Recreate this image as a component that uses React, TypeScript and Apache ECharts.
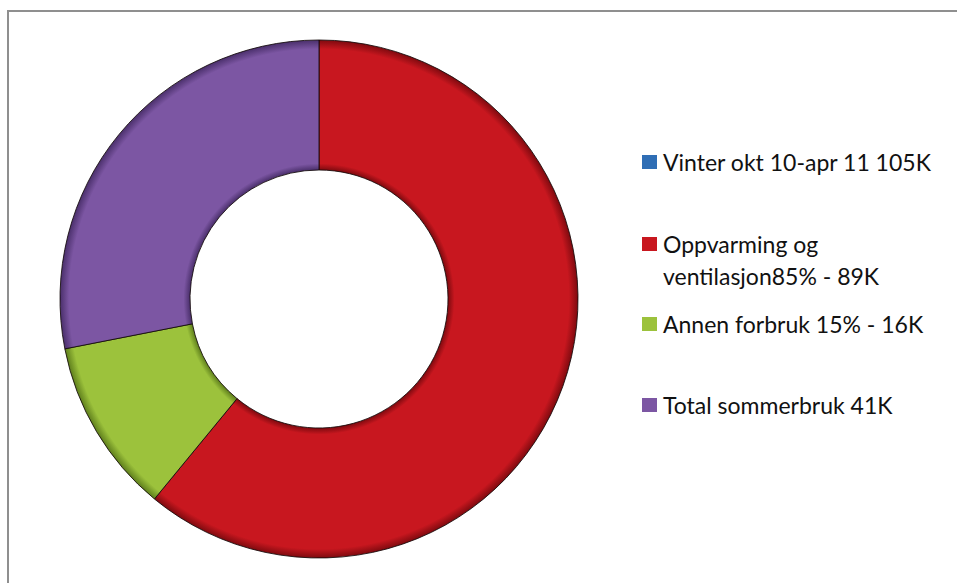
import React, { useEffect, useRef } from "react";
import * as echarts from "echarts";

const categories = [
  "Vinter okt 10-apr 11 105K",
  "Oppvarming og ventilasjon85% - 89K",
  "Annen forbruk 15% - 16K",
  "Total sommerbruk 41K",
];
const values = [0, 89, 16, 41];
const baseColors = ["#2F6EB5", "#C8171F", "#9CC23C", "#7C56A3"];
const darkColors = ["#1B4677", "#7E0A0F", "#5E7E1C", "#4A2F6B"];

const CX = 319;
const CY = 299;
const R_OUT = 259;
const R_IN = 129;

function fillFor(i: number) {
  const inner = R_IN / R_OUT;
  return {
    type: "radial",
    x: CX,
    y: CY,
    r: R_OUT,
    global: true,
    colorStops: [
      { offset: 0, color: darkColors[i] },
      { offset: inner, color: darkColors[i] },
      { offset: inner + 0.025, color: baseColors[i] },
      { offset: 0.965, color: baseColors[i] },
      { offset: 1, color: darkColors[i] },
    ],
  };
}

export default function App() {
  const ref = useRef<HTMLDivElement>(null);
  useEffect(() => {
    document.body.style.margin = "0";
    const chart = echarts.init(ref.current!, null, { renderer: "svg" });
    const font = "Lato, 'Noto Sans', sans-serif";
    const legendTops = [150, 232, 312, 393];
    const legends = categories.map((name, i) => ({
      show: true,
      left: 642,
      top: legendTops[i],
      orient: "vertical",
      icon: "rect",
      itemWidth: 15,
      itemHeight: 14,
      itemGap: 0,
      padding: 0,
      selectedMode: false,
      data: [{ name, itemStyle: { color: baseColors[i], borderWidth: 0 } }],
      formatter: (n: string) =>
        n.startsWith("Oppvarming") ? "Oppvarming og" : n,
      textStyle: {
        fontFamily: font,
        fontSize: 23,
        lineHeight: 24,
        color: "#111",
        padding: [0, 0, 0, 1],
      },
    }));
    chart.setOption({
      animation: false,
      backgroundColor: "#ffffff",
      legend: legends,
      graphic: [
        {
          type: "rect",
          shape: { x: 8, y: 11, width: 1200, height: 1200 },
          style: { fill: "none", stroke: "#8f8f8f", lineWidth: 2 },
          silent: true,
        },
        {
          type: "text",
          left: 663,
          top: 264,
          style: {
            text: "ventilasjon85% - 89K",
            font: `23px ${font}`,
            lineHeight: 24,
            fill: "#111",
          },
        },
      ],
      series: [
        {
          type: "pie",
          center: [CX, CY],
          radius: [R_IN, R_OUT],
          startAngle: 90,
          clockwise: true,
          label: { show: false },
          labelLine: { show: false },
          emphasis: { disabled: true },
          data: categories.map((name, i) => ({
            name,
            value: values[i],
            itemStyle: {
              color: fillFor(i),
              borderColor: values[i] === 0 ? "transparent" : "rgba(20,10,10,0.85)",
              borderWidth: values[i] === 0 ? 0 : 1,
            },
          })),
        },
      ],
    });
    return () => chart.dispose();
  }, []);
  return <div ref={ref} style={{ width: 957, height: 583 }} />;
}
